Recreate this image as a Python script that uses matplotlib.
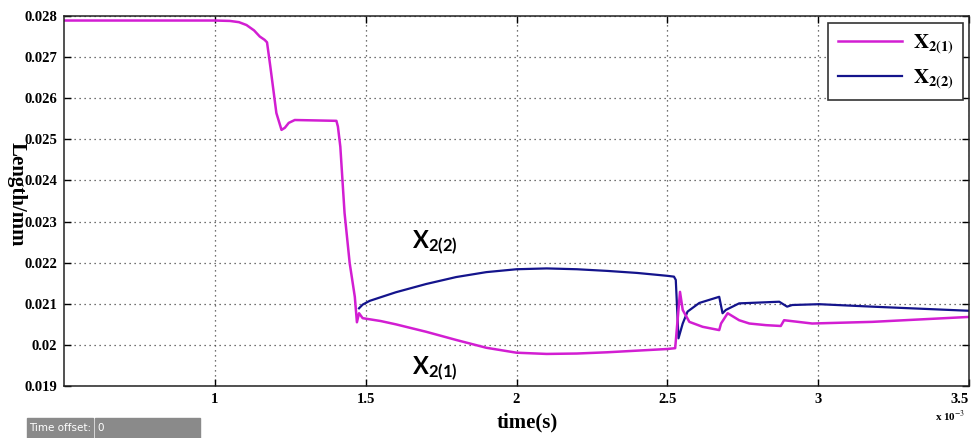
import matplotlib
matplotlib.use("Agg")
import matplotlib.pyplot as plt
from matplotlib.patches import Rectangle

plt.rcParams['mathtext.rm'] = 'Lato'
plt.rcParams['mathtext.bf'] = 'Lato:bold'
plt.rcParams['mathtext.it'] = 'Lato:italic'

# time in units of 1e-3 s
t_x21 = [0.5, 1.0, 1.05, 1.08, 1.105, 1.13, 1.149, 1.165, 1.173, 1.184, 1.204,
         1.221, 1.232, 1.245, 1.265, 1.403, 1.408, 1.416, 1.430, 1.447, 1.464,
         1.471, 1.478, 1.490, 1.55, 1.6, 1.7, 1.8, 1.9, 2.0, 2.1, 2.2, 2.3,
         2.4, 2.5, 2.526, 2.542, 2.551, 2.573, 2.617, 2.672, 2.678, 2.700,
         2.738, 2.772, 2.827, 2.876, 2.887, 2.980, 3.179, 3.5]
x21 = [0.02789, 0.02789, 0.02788, 0.02785, 0.02778, 0.02765, 0.02750, 0.02742,
       0.02736, 0.02677, 0.02564, 0.02523, 0.02528, 0.02540, 0.02547, 0.02545,
       0.02531, 0.02482, 0.02321, 0.02199, 0.02117, 0.02055, 0.02077, 0.02065,
       0.02058, 0.02050, 0.02032, 0.02012, 0.01993, 0.01981, 0.01978, 0.01979,
       0.01982, 0.01986, 0.01990, 0.01992, 0.02129, 0.02085, 0.02056, 0.02044,
       0.02036, 0.02052, 0.02077, 0.02060, 0.02052, 0.02048, 0.02046, 0.02060,
       0.02052, 0.02056, 0.02068]

t_x22 = [1.478, 1.49, 1.513, 1.546, 1.6, 1.7, 1.8, 1.9, 2.0, 2.1, 2.2, 2.3,
         2.4, 2.5, 2.522, 2.528, 2.537, 2.551, 2.567, 2.606, 2.672, 2.683,
         2.694, 2.738, 2.772, 2.871, 2.897, 2.914, 3.003, 3.179, 3.5]
x22 = [0.02089, 0.02098, 0.02107, 0.02115, 0.02128, 0.02148, 0.02165, 0.02177,
       0.02184, 0.02186, 0.02184, 0.02180, 0.02175, 0.02168, 0.02166, 0.02158,
       0.02016, 0.02052, 0.02081, 0.02102, 0.02117, 0.02077, 0.02085, 0.02101,
       0.02102, 0.02105, 0.02093, 0.02097, 0.02099, 0.02093, 0.02083]

xticks = [1, 1.5, 2, 2.5, 3, 3.5]
xticklabels = ['1', '1.5', '2', '2.5', '3', '3.5']
yticks = [0.019, 0.020, 0.021, 0.022, 0.023, 0.024, 0.025, 0.026, 0.027, 0.028]
yticklabels = ['0.019', '0.02', '0.021', '0.022', '0.023', '0.024', '0.025',
               '0.026', '0.027', '0.028']

W, H = 976, 438
fig = plt.figure(figsize=(W / 100, H / 100), dpi=100)
ax = fig.add_axes([64 / W, 1 - 386 / H, (969 - 64) / W, (386 - 16) / H])

magenta = '#d21ed2'
navy = '#14148c'
l2, = ax.plot(t_x22, x22, color=navy, lw=1.6, label=r'$\mathbf{X_{2(2)}}$')
l1, = ax.plot(t_x21, x21, color=magenta, lw=1.8, label=r'$\mathbf{X_{2(1)}}$')

ax.set_xlim(0.5, 3.5)
ax.set_ylim(0.019, 0.028)
ax.set_xticks(xticks)
ax.set_xticklabels(xticklabels)
ax.set_yticks(yticks)
ax.set_yticklabels(yticklabels)
ax.tick_params(direction='in', length=5, width=1, top=True, right=True,
               labelsize=10.5, pad=5)
for lab in ax.get_xticklabels() + ax.get_yticklabels():
    lab.set_fontfamily('Liberation Serif')
    lab.set_fontweight('bold')
ax.get_xticklabels()[-1].set_horizontalalignment('right')
ax.grid(True, color='#444444', linestyle=(0, (1, 3)), linewidth=0.9)
for s in ax.spines.values():
    s.set_linewidth(1.1)
    s.set_color('#222222')

leg = ax.legend(handles=[l1, l2], loc='upper right',
                bbox_to_anchor=(0.9934, 0.981), borderaxespad=0,
                fancybox=False, edgecolor='#333333', framealpha=1,
                fontsize=15, handlelength=3.1, labelspacing=0.55,
                borderpad=0.45, handletextpad=0.5)
leg.get_frame().set_linewidth(1.2)
for txt in leg.get_texts():
    txt.set_math_fontfamily('stix')

ax.text(1.652, 0.02248, r'$\mathbf{X_{2(2)}}$', fontsize=17, ha='left',
        va='center', math_fontfamily='custom')
ax.text(1.652, 0.01941, r'$\mathbf{X_{2(1)}}$', fontsize=17, ha='left',
        va='center', math_fontfamily='custom')

fig.text(527 / W, 1 - 422 / H, 'time(s)', fontsize=15, fontweight='bold',
         family='Liberation Serif', ha='center', va='center')
fig.text(17 / W, 1 - 194 / H, 'Length/mm', fontsize=15, fontweight='bold',
         family='Liberation Serif', ha='center', va='center', rotation=-90)
fig.text(950 / W, 1 - 416 / H, r'x 10$^{-3}$', fontsize=8, fontweight='bold',
         family='Liberation Serif', ha='center', va='center',
         math_fontfamily='stix')

# "Time offset" box
fig.patches.append(Rectangle((27 / W, 0), (93 - 27) / W, 20 / H,
                             transform=fig.transFigure, color='#8a8a8a'))
fig.patches.append(Rectangle((95 / W, 0), (200 - 95) / W, 20 / H,
                             transform=fig.transFigure, color='#8a8a8a'))
fig.text(29 / W, 1 - 428 / H, 'Time offset:', fontsize=7.5, color='white',
         family='DejaVu Sans', ha='left', va='center')
fig.text(97 / W, 1 - 428 / H, '0', fontsize=7.5, color='white',
         family='DejaVu Sans', ha='left', va='center')

fig.savefig('out.png', dpi=100)
